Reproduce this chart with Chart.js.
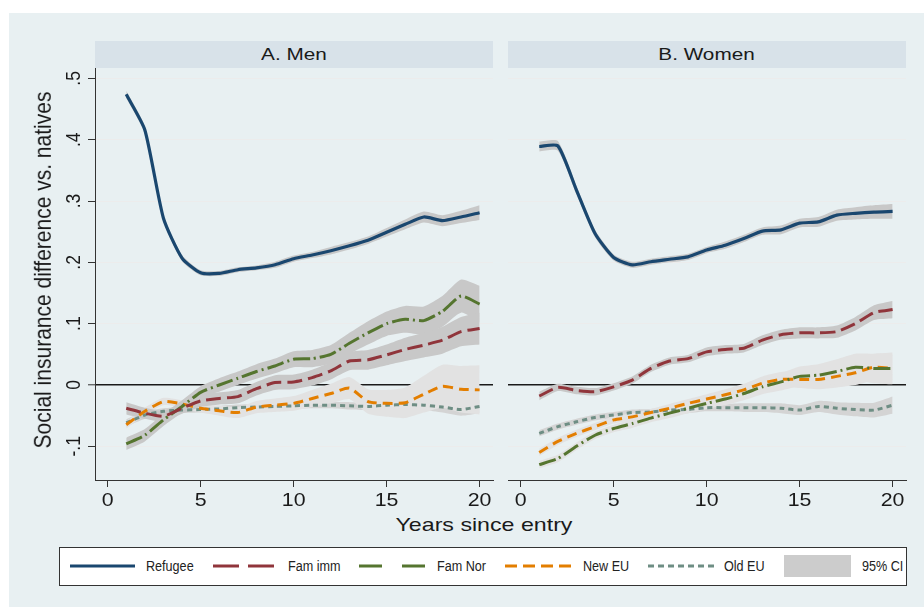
<!DOCTYPE html>
<html>
<head>
<meta charset="utf-8">
<script src="https://cdn.jsdelivr.net/npm/chart.js@4.4.1/dist/chart.umd.min.js"></script>
<style>
  html, body { margin: 0; padding: 0; background: #ffffff; }
  body { width: 924px; height: 607px; position: relative; overflow: hidden;
         font-family: "Liberation Sans", Arial, Helvetica, sans-serif; color: #1a1a1a; }
  #bg { position: absolute; left: 9px; top: 13px; right: 0; bottom: 0; background: #e8f0f2; }
  .strip { position: absolute; top: 41px; height: 27px; width: 398px; background: #d8e2e9;
           text-align: center; line-height: 27px; font-size: 17px; }
  .strip span { display: inline-block; transform: scaleX(1.22); }
  canvas { position: absolute; top: 60px; }
  #ytitle { position: absolute; left: -157px; top: 258px; width: 400px; height: 24px; line-height: 24px;
            text-align: center; font-size: 21px; white-space: nowrap; transform: scaleX(1.18) rotate(-90deg); }
  #xtitle { position: absolute; left: 284px; top: 512px; width: 400px; height: 26px; line-height: 26px;
            text-align: center; font-size: 19px; white-space: nowrap; transform: scaleX(1.22); }
  #legend { position: absolute; left: 59px; top: 547px; width: 846px; height: 37px; background: #ffffff;
            border: 1px solid #333333; overflow: hidden; }
  #legend svg { position: absolute; left: 0; top: 0; }
  #legend .lt { position: absolute; top: 9px; height: 18px; line-height: 18px; font-size: 14px;
                white-space: nowrap; color: #222222; transform: scaleX(0.9); transform-origin: 0 50%; }
</style>
</head>
<body>
<div id="bg"></div>
<div class="strip" style="left:95px"><span>A. Men</span></div>
<div class="strip" style="left:508px"><span>B. Women</span></div>
<canvas id="men" width="478" height="450" style="left:20px"></canvas>
<canvas id="women" width="403" height="450" style="left:508px"></canvas>
<div id="ytitle">Social insurance difference vs. natives</div>
<div id="xtitle">Years since entry</div>
<div id="legend">
  <svg width="846" height="37">
    <line x1="10" y1="18" x2="75" y2="18" stroke="#1a476f" stroke-width="3"/>
    <line x1="153" y1="18" x2="214" y2="18" stroke="#90353b" stroke-width="3" stroke-dasharray="26 9"/>
    <line x1="299" y1="18" x2="366" y2="18" stroke="#55752f" stroke-width="3" stroke-dasharray="23 20"/>
    <line x1="445" y1="18" x2="512" y2="18" stroke="#e37e00" stroke-width="3" stroke-dasharray="12 6"/>
    <line x1="588" y1="18" x2="656" y2="18" stroke="#6e8e84" stroke-width="3" stroke-dasharray="6 4"/>
    <rect x="724" y="7" width="67" height="22" fill="#cccccc"/>
  </svg>
  <span class="lt" style="left:86px">Refugee</span>
  <span class="lt" style="left:228px">Fam imm</span>
  <span class="lt" style="left:377px">Fam Nor</span>
  <span class="lt" style="left:523px">New EU</span>
  <span class="lt" style="left:664px">Old EU</span>
  <span class="lt" style="left:802px">95% CI</span>
</div>

<script>
// Years since entry
const years = [1, 2, 3, 4, 5, 6, 7, 8, 9, 10, 11, 12, 13, 14, 15, 16, 17, 18, 19, 20];

// Axis ticks
const xTicks = [0, 5, 10, 15, 20];
const xTickLabels = ['0', '5', '10', '15', '20'];
const yTicks = [-0.1, 0, 0.1, 0.2, 0.3, 0.4, 0.5];
const yTickLabels = ['-.1', '0', '.1', '.2', '.3', '.4', '.5'];

// A. Men: point estimates
const menRefugee = [0.474, 0.416, 0.272, 0.207, 0.183, 0.182, 0.188, 0.191, 0.196, 0.206, 0.212, 0.219, 0.227, 0.236, 0.249, 0.262, 0.274, 0.268, 0.274, 0.281];
const menFamImm  = [-0.038, -0.046, -0.051, -0.038, -0.026, -0.022, -0.019, -0.006, 0.004, 0.005, 0.012, 0.023, 0.039, 0.041, 0.049, 0.058, 0.065, 0.073, 0.087, 0.092];
const menFamNor  = [-0.096, -0.082, -0.057, -0.035, -0.012, 0.0, 0.011, 0.022, 0.031, 0.042, 0.043, 0.05, 0.068, 0.085, 0.1, 0.107, 0.105, 0.12, 0.145, 0.132];
const menNewEU   = [-0.065, -0.043, -0.027, -0.031, -0.038, -0.042, -0.045, -0.036, -0.033, -0.03, -0.022, -0.014, -0.005, -0.027, -0.03, -0.029, -0.015, -0.002, -0.007, -0.008];
const menOldEU   = [-0.062, -0.049, -0.043, -0.041, -0.04, -0.039, -0.037, -0.036, -0.035, -0.034, -0.033, -0.033, -0.034, -0.035, -0.033, -0.032, -0.033, -0.036, -0.04, -0.035];

// A. Men: half-widths of the 95% confidence intervals
const menRefugeeCI = [0.006, 0.006, 0.005, 0.005, 0.004, 0.004, 0.004, 0.004, 0.005, 0.005, 0.005, 0.006, 0.006, 0.006, 0.007, 0.008, 0.009, 0.009, 0.01, 0.012];
const menFamImmCI  = [0.01, 0.009, 0.009, 0.009, 0.01, 0.01, 0.011, 0.011, 0.012, 0.012, 0.013, 0.014, 0.015, 0.016, 0.017, 0.019, 0.02, 0.022, 0.024, 0.026];
const menFamNorCI  = [0.01, 0.01, 0.01, 0.01, 0.01, 0.011, 0.011, 0.012, 0.012, 0.013, 0.014, 0.015, 0.017, 0.019, 0.02, 0.022, 0.023, 0.025, 0.027, 0.03];
const menNewEUCI   = [0.006, 0.006, 0.006, 0.006, 0.007, 0.008, 0.009, 0.01, 0.011, 0.012, 0.014, 0.016, 0.018, 0.02, 0.022, 0.025, 0.03, 0.035, 0.038, 0.04];
const menOldEUCI   = [0.006, 0.006, 0.005, 0.005, 0.005, 0.005, 0.005, 0.005, 0.005, 0.005, 0.005, 0.005, 0.006, 0.006, 0.006, 0.007, 0.008, 0.009, 0.01, 0.011];

// B. Women: point estimates
const womenRefugee = [0.389, 0.39, 0.318, 0.247, 0.208, 0.196, 0.201, 0.205, 0.209, 0.22, 0.228, 0.239, 0.251, 0.253, 0.264, 0.266, 0.277, 0.28, 0.282, 0.283];
const womenFamImm  = [-0.018, -0.004, -0.009, -0.011, -0.003, 0.008, 0.027, 0.039, 0.043, 0.054, 0.058, 0.06, 0.073, 0.082, 0.085, 0.085, 0.087, 0.1, 0.118, 0.123];
const womenFamNor  = [-0.13, -0.12, -0.1, -0.082, -0.071, -0.063, -0.054, -0.046, -0.038, -0.03, -0.023, -0.014, -0.003, 0.005, 0.014, 0.016, 0.022, 0.029, 0.027, 0.027];
const womenNewEU   = [-0.11, -0.092, -0.079, -0.068, -0.057, -0.052, -0.045, -0.038, -0.03, -0.023, -0.016, -0.008, 0.003, 0.009, 0.009, 0.009, 0.014, 0.02, 0.029, 0.027];
const womenOldEU   = [-0.079, -0.068, -0.06, -0.053, -0.049, -0.045, -0.044, -0.041, -0.04, -0.037, -0.037, -0.037, -0.037, -0.038, -0.041, -0.035, -0.038, -0.04, -0.041, -0.033];

// B. Women: half-widths of the 95% confidence intervals
const womenRefugeeCI = [0.008, 0.008, 0.007, 0.006, 0.005, 0.005, 0.005, 0.005, 0.005, 0.005, 0.006, 0.006, 0.006, 0.007, 0.007, 0.008, 0.009, 0.01, 0.011, 0.012];
const womenFamImmCI  = [0.007, 0.006, 0.006, 0.006, 0.006, 0.006, 0.006, 0.006, 0.006, 0.007, 0.007, 0.007, 0.008, 0.008, 0.009, 0.009, 0.01, 0.011, 0.012, 0.014];
const womenFamNorCI  = [0.006, 0.006, 0.006, 0.006, 0.006, 0.007, 0.007, 0.008, 0.008, 0.009, 0.01, 0.011, 0.012, 0.014, 0.016, 0.018, 0.02, 0.022, 0.024, 0.026];
const womenNewEUCI   = [0.006, 0.006, 0.006, 0.006, 0.006, 0.006, 0.006, 0.007, 0.007, 0.008, 0.009, 0.01, 0.011, 0.012, 0.014, 0.016, 0.018, 0.02, 0.022, 0.024];
const womenOldEUCI   = [0.005, 0.005, 0.005, 0.005, 0.005, 0.005, 0.005, 0.006, 0.006, 0.006, 0.006, 0.007, 0.007, 0.008, 0.008, 0.009, 0.01, 0.011, 0.012, 0.014];

// Line styles per group
const styles = {
  'Refugee': { color: '#1a476f', dash: [],            width: 3.2 },
  'Fam imm': { color: '#90353b', dash: [15, 6],       width: 3 },
  'Fam Nor': { color: '#55752f', dash: [17, 4, 2, 4], width: 3 },
  'New EU':  { color: '#e37e00', dash: [10, 6],       width: 3 },
  'Old EU':  { color: '#6e8e84', dash: [5, 4],        width: 3 }
};
const bandDark = '#c8c8c8', bandMid = '#d4d4d4', bandLight = '#e2e2e2';
const curve = 0.2;

function pts(vals) { return years.map((x, i) => ({ x: x, y: vals[i] })); }

function buildDatasets(series) {
  const sets = [];
  // confidence bands first, each as a lower/upper pair
  series.forEach((s, k) => {
    const lo = s.values.map((v, i) => v - s.ci[i]);
    const hi = s.values.map((v, i) => v + s.ci[i]);
    sets.push({ data: pts(lo), borderColor: 'rgba(0,0,0,0)', borderWidth: 0, pointRadius: 0,
                tension: curve, fill: false, order: 20 + k });
    sets.push({ data: pts(hi), borderColor: 'rgba(0,0,0,0)', borderWidth: 0, pointRadius: 0,
                tension: curve, fill: '-1', backgroundColor: s.band, order: 20 + k });
  });
  series.forEach((s, k) => {
    const st = styles[s.label];
    sets.push({ label: s.label, data: pts(s.values), borderColor: st.color, borderWidth: st.width,
                borderDash: st.dash, borderCapStyle: 'butt', pointRadius: 0, tension: curve,
                fill: false, order: k });
  });
  return sets;
}

const tickText = {
  id: 'tickText',
  afterDraw(chart, args, opts) {
    const ctx = chart.ctx, xs = chart.scales.x, ys = chart.scales.y;
    ctx.save();
    ctx.fillStyle = '#1a1a1a';
    ctx.font = '17.5px "Liberation Sans", Arial, sans-serif';
    ctx.textAlign = 'center';
    ctx.textBaseline = 'alphabetic';
    xTicks.forEach((v, i) => {
      ctx.save();
      ctx.translate(xs.getPixelForValue(v), xs.top + 26);
      ctx.scale(1.22, 1);
      ctx.fillText(xTickLabels[i], 0, 0);
      ctx.restore();
    });
    if (opts.yLabels) {
      yTicks.forEach((v, i) => {
        ctx.save();
        ctx.translate(ys.right - 15, ys.getPixelForValue(v));
        ctx.scale(1.2, 1);
        ctx.rotate(-Math.PI / 2);
        ctx.fillText(yTickLabels[i], 0, 0);
        ctx.restore();
      });
    }
    ctx.restore();
  }
};

function makeChart(id, series, isLeft) {
  return new Chart(document.getElementById(id), {
    type: 'line',
    data: { datasets: buildDatasets(series) },
    options: {
      responsive: false,
      animation: false,
      devicePixelRatio: 1,
      layout: { padding: { top: 8, right: 5, left: 0, bottom: 0 } },
      plugins: {
        legend: { display: false },
        tooltip: { enabled: false },
        filler: { drawTime: 'beforeDatasetsDraw' },
        tickText: { yLabels: isLeft }
      },
      scales: {
        x: {
          type: 'linear', min: -0.68, max: 20.72,
          afterBuildTicks: s => { s.ticks = xTicks.map(v => ({ value: v })); },
          afterFit: s => { s.height = 30; },
          ticks: { display: false },
          grid: { drawOnChartArea: false, drawTicks: true, tickLength: 7, tickColor: '#333333', tickWidth: 1 },
          border: { display: true, color: '#333333', width: 1 }
        },
        y: {
          type: 'linear', min: -0.155, max: 0.517,
          afterBuildTicks: s => { s.ticks = yTicks.map(v => ({ value: v })); },
          afterFit: s => { s.width = isLeft ? 75 : 0; },
          ticks: { display: false },
          grid: {
            drawOnChartArea: true, drawTicks: isLeft, tickLength: 7, tickColor: '#333333', tickWidth: 1,
            color: c => (c.tick && c.tick.value === 0) ? '#1a1a1a' : '#ececec',
            lineWidth: c => (c.tick && c.tick.value === 0) ? 1.6 : 1
          },
          border: { display: isLeft, color: '#333333', width: 1 }
        }
      }
    },
    plugins: [tickText]
  });
}

makeChart('men', [
  { label: 'Refugee', values: menRefugee, ci: menRefugeeCI, band: bandDark },
  { label: 'Fam imm', values: menFamImm,  ci: menFamImmCI,  band: bandDark },
  { label: 'Fam Nor', values: menFamNor,  ci: menFamNorCI,  band: bandDark },
  { label: 'New EU',  values: menNewEU,   ci: menNewEUCI,   band: bandLight },
  { label: 'Old EU',  values: menOldEU,   ci: menOldEUCI,   band: bandMid }
], true);

makeChart('women', [
  { label: 'Refugee', values: womenRefugee, ci: womenRefugeeCI, band: bandDark },
  { label: 'Fam imm', values: womenFamImm,  ci: womenFamImmCI,  band: bandDark },
  { label: 'Fam Nor', values: womenFamNor,  ci: womenFamNorCI,  band: bandLight },
  { label: 'New EU',  values: womenNewEU,   ci: womenNewEUCI,   band: bandLight },
  { label: 'Old EU',  values: womenOldEU,   ci: womenOldEUCI,   band: bandMid }
], false);
</script>
</body>
</html>
